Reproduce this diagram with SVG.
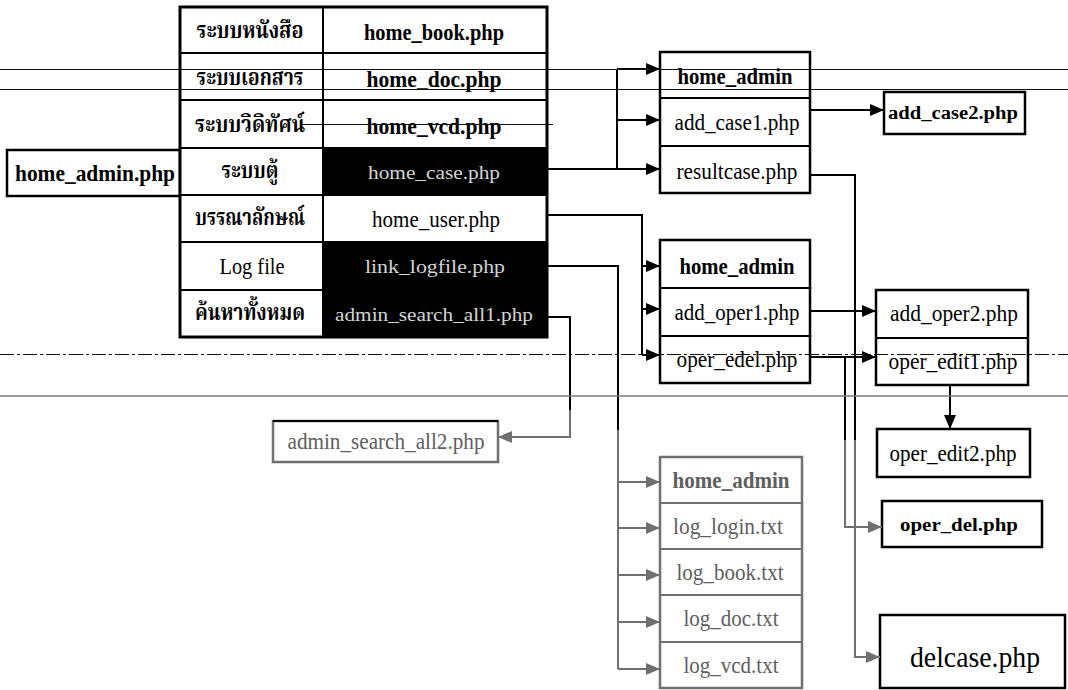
<svg xmlns="http://www.w3.org/2000/svg" width="1068" height="690" viewBox="0 0 1068 690">
<style>
.t{font-family:"Liberation Serif","Times New Roman",serif;font-size:23px;fill:#000;text-anchor:middle;dominant-baseline:central}
.b{font-weight:bold}
.w{fill:#d4d4d4;font-size:19px}
.gt{fill:#5e5e5e}
.th{font-family:"Noto Serif Thai","Noto Sans Thai","Tlwg Typo","Norasi","Loma","Garuda","Liberation Serif",serif;font-size:23px;font-weight:bold;fill:#000;text-anchor:middle;dominant-baseline:central}
.box{fill:#fff;stroke:#000;stroke-width:2.5}
.gbox{fill:#fff;stroke:#707070;stroke-width:2.5}
.blk{fill:#000;stroke:#000;stroke-width:2}
.ln{fill:none;stroke:#000;stroke-width:2}
.c{fill:none;stroke:#000;stroke-width:2}
.cg{fill:none;stroke:#707070;stroke-width:2}
.scan{fill:none;stroke:#111;stroke-width:1}
</style>
<defs>
<marker id="ah" markerUnits="userSpaceOnUse" markerWidth="14" markerHeight="12" refX="14" refY="6" orient="auto"><path d="M0,0 L14,6 L0,12 z" fill="#000"/></marker>
<marker id="ahg" markerUnits="userSpaceOnUse" markerWidth="14" markerHeight="12" refX="14" refY="6" orient="auto"><path d="M0,0 L14,6 L0,12 z" fill="#707070"/></marker>
</defs>
<rect width="1068" height="690" fill="#fff"/>

<g id="home_admin_php">
<rect class="box" x="7" y="150" width="173" height="46"/>
<text class="t b" x="95" y="173" textLength="160" lengthAdjust="spacingAndGlyphs">home_admin.php</text>
</g>

<g id="menu_table">
<rect x="180" y="7" width="367" height="330" fill="#fff" stroke="none"/>
<rect class="blk" x="323" y="148" width="224" height="47"/>
<rect class="blk" x="323" y="242" width="224" height="95"/>
<g id="row_book">
<text class="th" x="250" y="32" textLength="107" lengthAdjust="spacingAndGlyphs">ระบบหนังสือ</text>
<text class="t b" x="434" y="32" textLength="140" lengthAdjust="spacingAndGlyphs">home_book.php</text>
</g>
<g id="row_doc">
<text class="th" x="250" y="79" textLength="107" lengthAdjust="spacingAndGlyphs">ระบบเอกสาร</text>
<text class="t b" x="434" y="79" textLength="135" lengthAdjust="spacingAndGlyphs">home_doc.php</text>
</g>
<g id="row_vcd">
<text class="th" x="250" y="126" textLength="110" lengthAdjust="spacingAndGlyphs">ระบบวิดิทัศน์</text>
<text class="t b" x="434" y="126" textLength="135" lengthAdjust="spacingAndGlyphs">home_vcd.php</text>
</g>
<g id="row_case">
<text class="th" x="250" y="172" textLength="57" lengthAdjust="spacingAndGlyphs">ระบบตู้</text>
<text class="t w" x="434" y="172" textLength="132" lengthAdjust="spacingAndGlyphs">home_case.php</text>
</g>
<g id="row_user">
<text class="th" x="250" y="219" textLength="110" lengthAdjust="spacingAndGlyphs">บรรณาลักษณ์</text>
<text class="t" x="436" y="219" textLength="128" lengthAdjust="spacingAndGlyphs">home_user.php</text>
</g>
<g id="row_log">
<text class="t" x="252" y="266" textLength="65" lengthAdjust="spacingAndGlyphs">Log file</text>
<text class="t w" x="435" y="266" textLength="140" lengthAdjust="spacingAndGlyphs">link_logfile.php</text>
</g>
<g id="row_search">
<text class="th" x="250" y="314" textLength="110" lengthAdjust="spacingAndGlyphs">ค้นหาทั้งหมด</text>
<text class="t w" x="434" y="314" textLength="198" lengthAdjust="spacingAndGlyphs">admin_search_all1.php</text>
</g>
<path class="ln" d="M180,53 H547 M180,100 H547 M180,148 H547 M180,195 H547 M180,242 H547 M180,290 H547 M323,7 V337"/>
<rect x="180" y="7" width="367" height="330" fill="none" stroke="#000" stroke-width="3"/>
</g>

<g id="case_group">
<rect class="box" x="660" y="52" width="150" height="141"/>
<path class="ln" d="M660,98 H810 M660,146 H810"/>
<text class="t b" x="735" y="76" textLength="115" lengthAdjust="spacingAndGlyphs">home_admin</text>
<text class="t" x="737" y="122" textLength="125" lengthAdjust="spacingAndGlyphs">add_case1.php</text>
<text class="t" x="737" y="171" textLength="121" lengthAdjust="spacingAndGlyphs">resultcase.php</text>
</g>

<g id="add_case2">
<rect class="box" x="884" y="92" width="141" height="42"/>
<text class="t b" x="953" y="113" style="font-size:18px" textLength="130" lengthAdjust="spacingAndGlyphs">add_case2.php</text>
</g>

<g id="oper_group">
<rect class="box" x="660" y="240" width="150" height="143"/>
<path class="ln" d="M660,288 H810 M660,336 H810"/>
<text class="t b" x="737" y="266" textLength="115" lengthAdjust="spacingAndGlyphs">home_admin</text>
<text class="t" x="737" y="312" textLength="125" lengthAdjust="spacingAndGlyphs">add_oper1.php</text>
<text class="t" x="737" y="359" textLength="121" lengthAdjust="spacingAndGlyphs">oper_edel.php</text>
</g>

<g id="oper_edit_group">
<rect class="box" x="876" y="290" width="152" height="95"/>
<path class="ln" d="M876,338 H1028"/>
<text class="t" x="954" y="313" textLength="128" lengthAdjust="spacingAndGlyphs">add_oper2.php</text>
<text class="t" x="953" y="361" textLength="129" lengthAdjust="spacingAndGlyphs">oper_edit1.php</text>
</g>

<g id="oper_edit2">
<rect class="box" x="877" y="429" width="153" height="48"/>
<text class="t" x="953" y="453" textLength="127" lengthAdjust="spacingAndGlyphs">oper_edit2.php</text>
</g>

<g id="oper_del">
<rect class="box" x="882" y="501" width="160" height="46"/>
<text class="t b" x="959" y="525" style="font-size:18px" textLength="118" lengthAdjust="spacingAndGlyphs">oper_del.php</text>
</g>

<g id="delcase">
<rect class="box" x="880" y="615" width="185" height="73"/>
<text class="t" x="975" y="656" style="font-size:30px" textLength="130" lengthAdjust="spacingAndGlyphs">delcase.php</text>
</g>

<g id="admin_search_all2">
<rect class="gbox" x="273" y="421" width="225" height="41"/>
<path class="ln" d="M273,421 H498"/>
<text class="t gt" x="386" y="441" textLength="197" lengthAdjust="spacingAndGlyphs">admin_search_all2.php</text>
</g>

<g id="log_group">
<rect class="gbox" x="660" y="457" width="142" height="231"/>
<path fill="none" stroke="#707070" stroke-width="2" d="M660,503 H802 M660,549 H802 M660,595 H802 M660,642 H802"/>
<text class="t b gt" x="731" y="480" textLength="117" lengthAdjust="spacingAndGlyphs">home_admin</text>
<text class="t gt" x="728" y="526" textLength="110" lengthAdjust="spacingAndGlyphs">log_login.txt</text>
<text class="t gt" x="730" y="572" textLength="107" lengthAdjust="spacingAndGlyphs">log_book.txt</text>
<text class="t gt" x="731" y="618" textLength="95" lengthAdjust="spacingAndGlyphs">log_doc.txt</text>
<text class="t gt" x="731" y="665" textLength="95" lengthAdjust="spacingAndGlyphs">log_vcd.txt</text>
</g>

<g id="connectors">
<path class="c" d="M547,169 H617 V69"/>
<path class="c" d="M617,69 H660" marker-end="url(#ah)"/>
<path class="c" d="M617,120 H660" marker-end="url(#ah)"/>
<path class="c" d="M617,169 H660" marker-end="url(#ah)"/>
<path class="c" d="M810,110 H884" marker-end="url(#ah)"/>
<path class="c" d="M810,175 H855 V440"/>
<path class="cg" d="M855,440 V657 H880" marker-end="url(#ahg)"/>
<path class="c" d="M547,215 H642 V355"/>
<path class="c" d="M642,266 H660" marker-end="url(#ah)"/>
<path class="c" d="M642,309 H660" marker-end="url(#ah)"/>
<path class="c" d="M642,355 H660" marker-end="url(#ah)"/>
<path class="c" d="M547,266 H618 V430"/>
<path class="cg" d="M618,430 V669"/>
<path class="cg" d="M618,482 H660" marker-end="url(#ahg)"/>
<path class="cg" d="M618,528 H660" marker-end="url(#ahg)"/>
<path class="cg" d="M618,575 H660" marker-end="url(#ahg)"/>
<path class="cg" d="M618,622 H660" marker-end="url(#ahg)"/>
<path class="cg" d="M618,669 H660" marker-end="url(#ahg)"/>
<path class="c" d="M547,317 H570 V410"/>
<path class="cg" d="M570,410 V437 H498" marker-end="url(#ahg)"/>
<path class="c" d="M810,311 H876" marker-end="url(#ah)"/>
<path class="c" d="M810,357 H876" marker-end="url(#ah)"/>
<path class="c" d="M845,357 V440"/>
<path class="cg" d="M845,440 V527 H882" marker-end="url(#ahg)"/>
<path class="c" d="M950,385 V429" marker-end="url(#ah)"/>
</g>

<g id="scan_lines">
<path class="scan" d="M0,69.5 H1068"/>
<path class="scan" d="M0,89.5 H1068"/>
<path class="scan" d="M300,124.5 H553"/>
<path class="scan" stroke-dasharray="14,3,3,3" stroke="#444" d="M0,354.5 H1068"/>
<path fill="none" stroke="#777" stroke-width="1.5" d="M0,396 H1068"/>
</g>
</svg>
